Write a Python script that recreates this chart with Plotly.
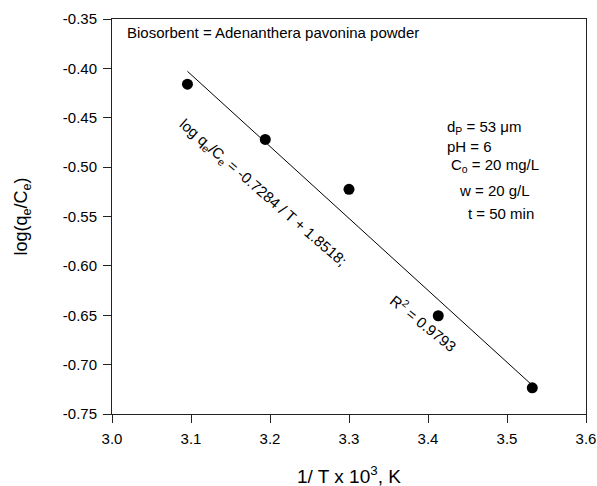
import plotly.graph_objects as go

# Reciprocal temperature (1/T x 10^3, K^-1) and log(qe/Ce)
inv_t = [3.0955, 3.194, 3.300, 3.413, 3.532]
log_qc = [-0.416, -0.472, -0.5225, -0.6505, -0.7235]

# Linear fit: log(qe/Ce) = slope * (1/T x 10^3) + intercept
slope = -0.7284
intercept = 1.8518
r_squared = 0.9793

x_ticks = [3.0, 3.1, 3.2, 3.3, 3.4, 3.5, 3.6]
x_tick_text = ["3.0", "3.1", "3.2", "3.3", "3.4", "3.5", "3.6"]
y_ticks = [-0.35, -0.40, -0.45, -0.50, -0.55, -0.60, -0.65, -0.70, -0.75]
y_tick_text = ["-0.35", "-0.40", "-0.45", "-0.50", "-0.55", "-0.60", "-0.65", "-0.70", "-0.75"]

FONT = "Liberation Sans, Arial, sans-serif"

fit_x = [min(inv_t), max(inv_t)]
fit_y = [slope * v + intercept for v in fit_x]

fig = go.Figure()
fig.add_trace(go.Scatter(x=fit_x, y=fit_y, mode="lines",
                         line=dict(color="black", width=1), hoverinfo="skip"))
fig.add_trace(go.Scatter(x=inv_t, y=log_qc, mode="markers",
                         marker=dict(color="black", size=11)))

ann = [
    dict(x=3.016, y=-0.3632, text="Biosorbent = Adenanthera pavonina powder", xanchor="left"),
    dict(x=3.4215, y=-0.4603, text="d<sub>P</sub> = 53 \u03bcm", xanchor="left"),
    dict(x=3.4215, y=-0.4796, text="pH = 6", xanchor="left"),
    dict(x=3.4267, y=-0.4988, text="C<sub>o</sub> = 20 mg/L", xanchor="left"),
    dict(x=3.4368, y=-0.5241, text="w = 20 g/L", xanchor="left"),
    dict(x=3.448, y=-0.5474, text="t = 50 min", xanchor="left"),
    dict(x=3.19, y=-0.526, text=f"log q<sub>e</sub>/C<sub>e</sub> = {slope} / T + {intercept};",
         textangle=41, xanchor="center"),
    dict(x=3.395, y=-0.6577, text=f"R<sup>2</sup> = {r_squared}", textangle=39, xanchor="center"),
]
for a in ann:
    fig.add_annotation(xref="x", yref="y", showarrow=False, yanchor="middle",
                       font=dict(family=FONT, size=15, color="black"), **a)

# x-axis title sits close to the bottom edge, so it is placed as a paper annotation
fig.add_annotation(xref="paper", yref="paper", x=0.5, y=-0.155, showarrow=False,
                   xanchor="center", yanchor="middle",
                   text="1/ T x 10<sup>3</sup>, K",
                   font=dict(family=FONT, size=19, color="black"))

axis_common = dict(showgrid=False, zeroline=False, showline=True, linecolor="#222",
                   linewidth=1, mirror=True, ticks="outside", ticklen=8, tickwidth=1,
                   tickcolor="#222", ticklabelstandoff=3,
                   tickfont=dict(family=FONT, size=15, color="black"))

fig.update_xaxes(range=[3.0, 3.6], tickvals=x_ticks, ticktext=x_tick_text,
                 automargin=False, **axis_common)
fig.update_yaxes(range=[-0.75, -0.35], tickvals=y_ticks, ticktext=y_tick_text,
                 automargin="width",
                 title=dict(text="log(q<sub>e</sub>/C<sub>e</sub>)", font=dict(family=FONT, size=18, color="black"),
                            standoff=30),
                 **axis_common)

fig.update_layout(width=597, height=486, showlegend=False,
                  margin=dict(l=112, r=11, t=19, b=72),
                  paper_bgcolor="white", plot_bgcolor="white")

fig.write_html("out.html")
